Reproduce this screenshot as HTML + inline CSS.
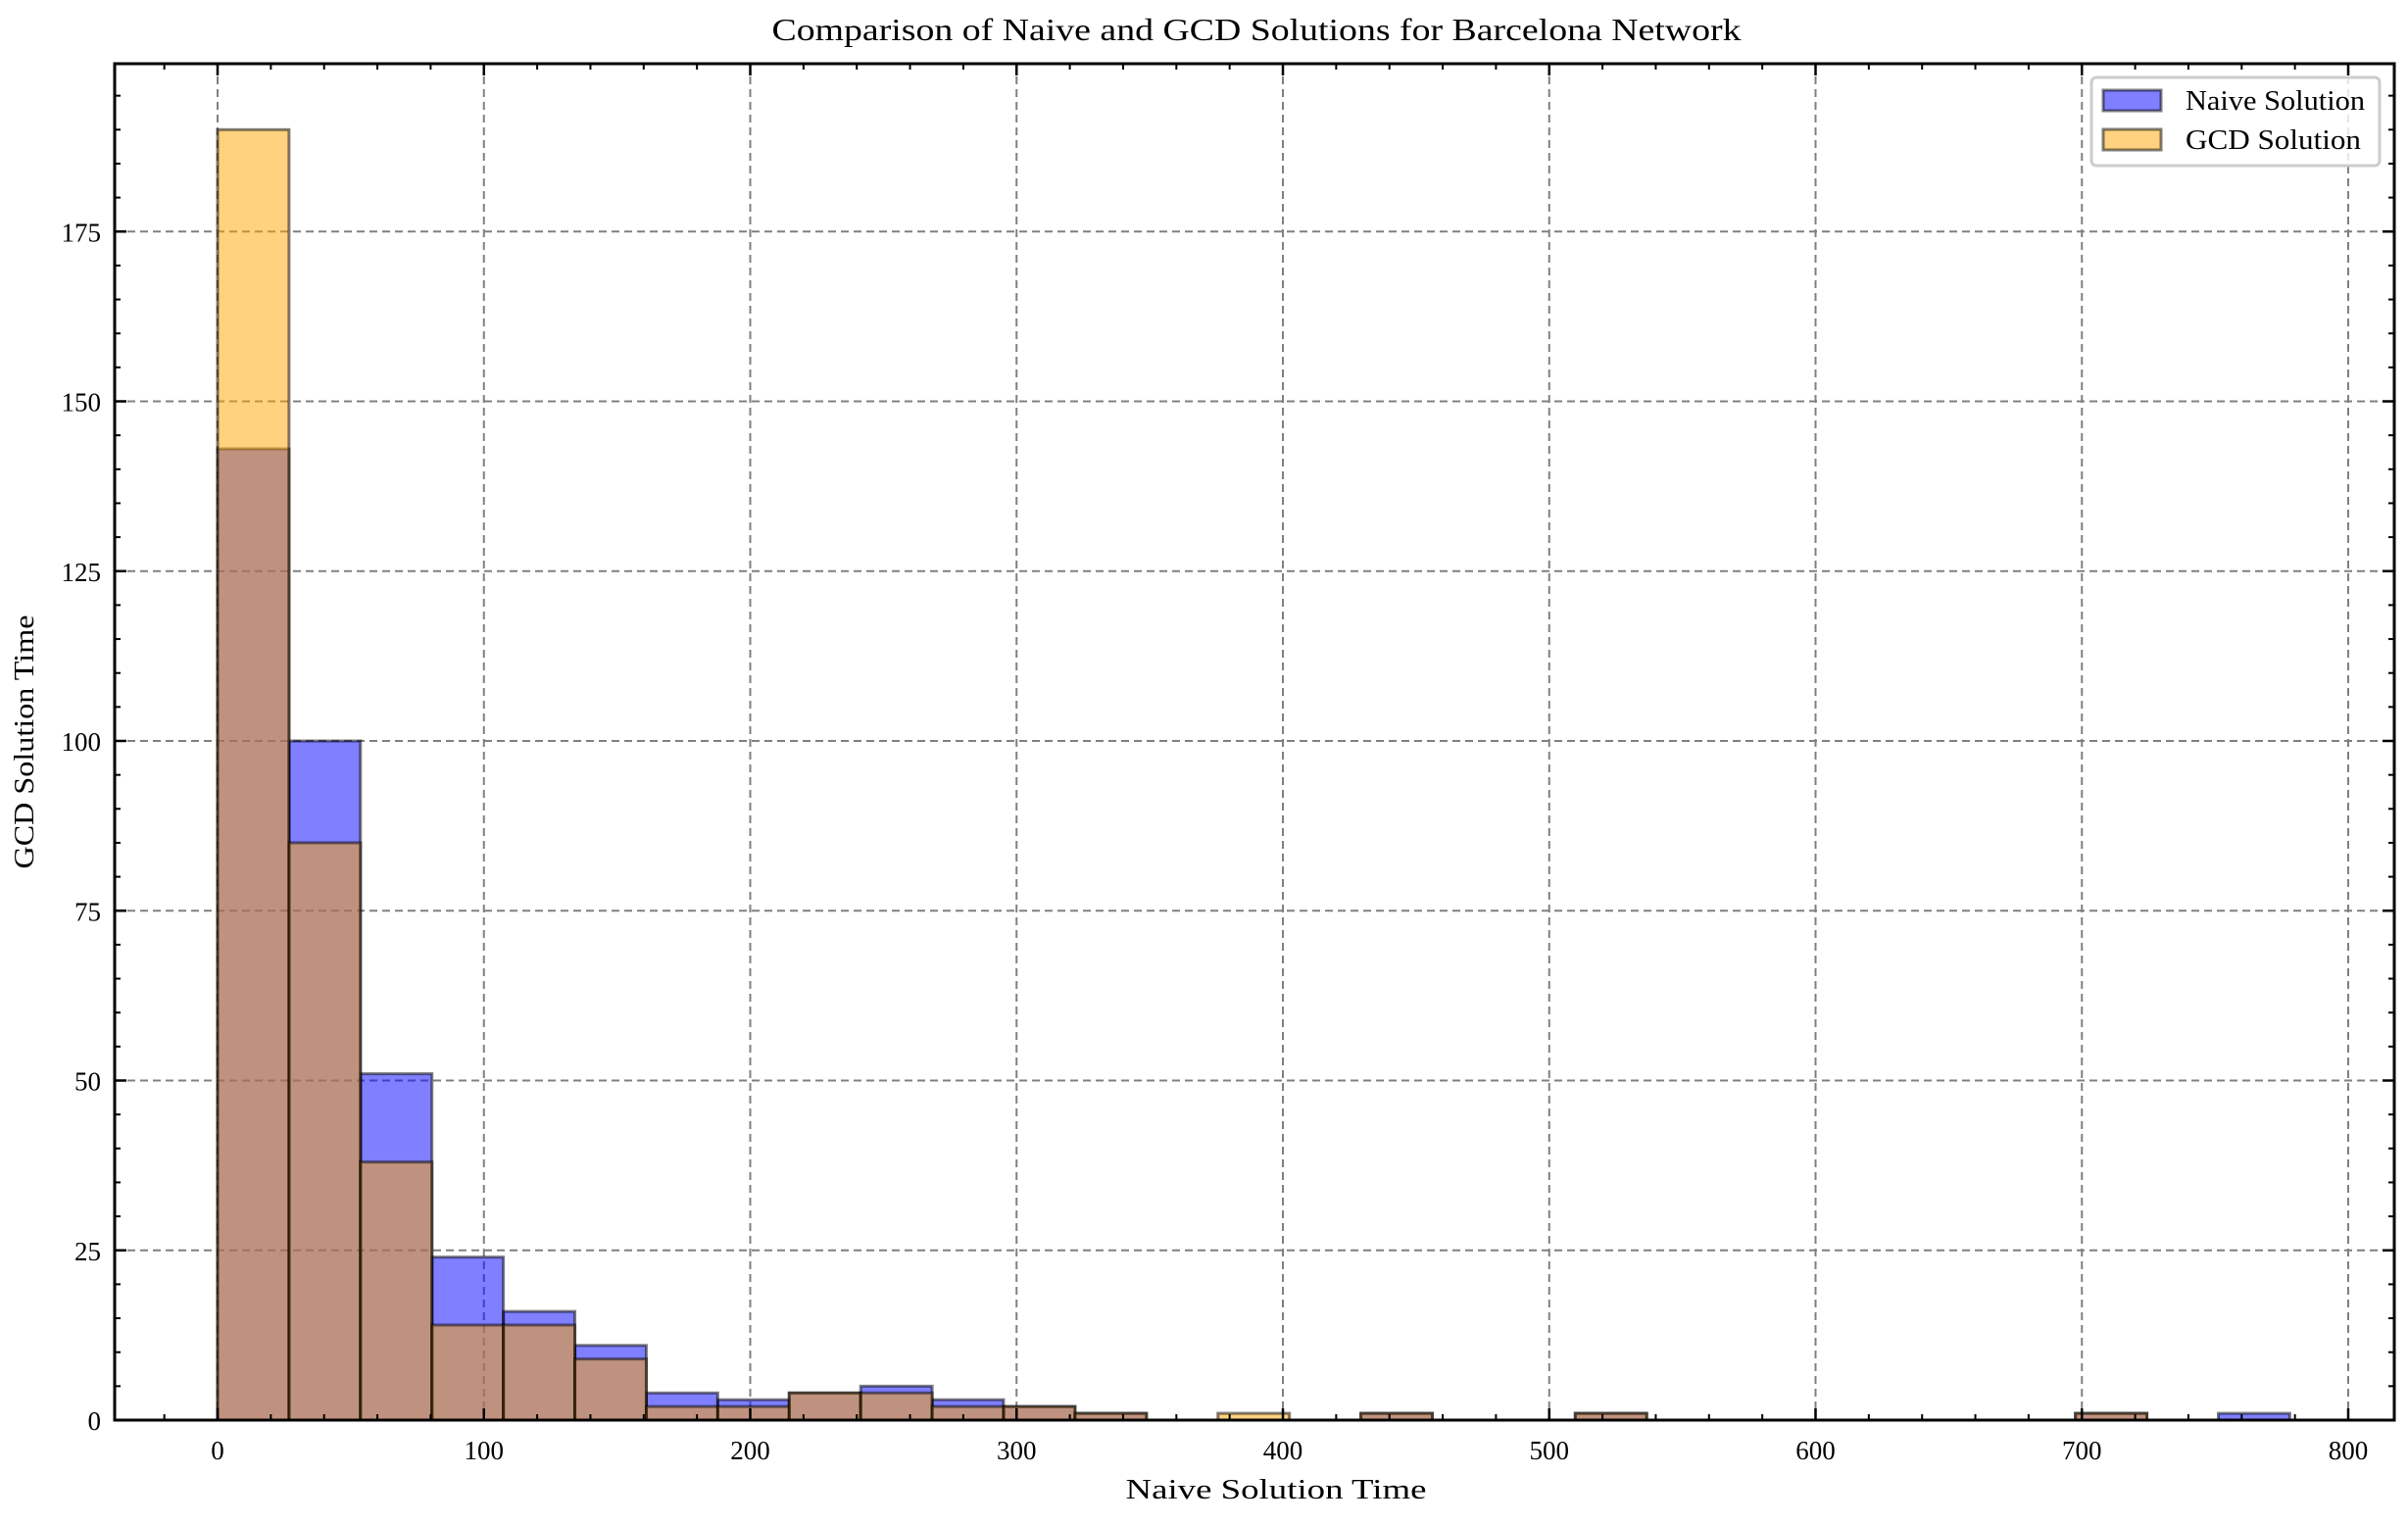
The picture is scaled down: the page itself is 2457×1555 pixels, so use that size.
<!DOCTYPE html>
<html><head><meta charset="utf-8"><style>
body{margin:0;background:#fff}
svg text{font-family:"Liberation Serif",serif;fill:#000}
</style></head><body>
<svg id="chart" width="2457" height="1550" viewBox="0 0 2457 1550" xmlns="http://www.w3.org/2000/svg">
<rect width="2457" height="1550" fill="#fff"/>
<text x="1282" y="41" font-size="32" text-anchor="middle" textLength="989" lengthAdjust="spacingAndGlyphs">Comparison of Naive and GCD Solutions for Barcelona Network</text>
<g id="grid"></g><g id="bars"></g><g id="ticks"></g>
<rect x="117" y="65" width="2326" height="1384" fill="none" stroke="#000" stroke-width="3"/>
<text x="1302" y="1529" font-size="28" text-anchor="middle" textLength="307" lengthAdjust="spacingAndGlyphs">Naive Solution Time</text>
<text transform="translate(34,757) rotate(-90)" font-size="28" text-anchor="middle" textLength="259" lengthAdjust="spacingAndGlyphs">GCD Solution Time</text>
<g>
<rect x="2134" y="79" width="294" height="90" rx="5" fill="#fff" fill-opacity="0.8" stroke="#ccc" stroke-width="3"/>
<rect x="2146" y="92" width="59" height="21" fill="rgba(0,0,255,0.5)" stroke="rgba(0,0,0,0.5)" stroke-width="3"/>
<text x="2230" y="112" font-size="28" textLength="183" lengthAdjust="spacingAndGlyphs">Naive Solution</text>
<rect x="2146" y="132" width="59" height="21" fill="rgba(255,165,0,0.5)" stroke="rgba(0,0,0,0.5)" stroke-width="3"/>
<text x="2230" y="152" font-size="28" textLength="179" lengthAdjust="spacingAndGlyphs">GCD Solution</text>
</g>
</svg>
<script>
const binWidth = 26.83;
const naiveCounts = [143,100,51,24,16,11,4,3,4,5,3,2,1,0,0,0,1,0,0,1,0,0,0,0,0,0,1,0,1];
const gcdCounts = [190,85,38,14,14,9,2,2,4,4,2,2,1,0,1,0,1,0,0,1,0,0,0,0,0,0,1,0,0];
const xTicks = [0,100,200,300,400,500,600,700,800];
const yTicks = [0,25,50,75,100,125,150,175];
const NS='http://www.w3.org/2000/svg';
const L=117,R=2443,T=65,B=1449;
const X=v=>222+v*2.7175;
const Y=v=>B-v*6.93;
function mk(tag,attrs,parent){const e=document.createElementNS(NS,tag);for(const k in attrs)e.setAttribute(k,attrs[k]);parent.appendChild(e);return e;}
const grid=document.getElementById('grid'),bars=document.getElementById('bars'),ticks=document.getElementById('ticks');
xTicks.forEach(v=>{
 const g=mk('line',{x1:X(v),x2:X(v),y1:T,y2:B,stroke:'#808080','stroke-width':2,'stroke-dasharray':'8,5'},grid);
 
 
 const t=mk('text',{x:X(v),y:B+40,'font-size':27,'text-anchor':'middle'},ticks);t.textContent=v;
 
 
 mk('line',{x1:X(v),x2:X(v),y1:B,y2:B-12,stroke:'#000','stroke-width':2.5},ticks);
 mk('line',{x1:X(v),x2:X(v),y1:T,y2:T+12,stroke:'#000','stroke-width':2.5},ticks);
});
for(let v=-40;v<=820;v+=20){if(v%100===0)continue;const x=X(v);if(x<L||x>R)continue;
 mk('line',{x1:x,x2:x,y1:B,y2:B-6,stroke:'#000','stroke-width':2},ticks);
 mk('line',{x1:x,x2:x,y1:T,y2:T+6,stroke:'#000','stroke-width':2},ticks);}
yTicks.forEach(v=>{
 if(v>0){const g=mk('line',{x1:L,x2:R,y1:Y(v),y2:Y(v),stroke:'#808080','stroke-width':2,'stroke-dasharray':'8,5'},grid);
 
 }
 const t=mk('text',{x:L-14,y:Y(v)+10,'font-size':27,'text-anchor':'end'},ticks);t.textContent=v;
 
 
 mk('line',{x1:L,x2:L+12,y1:Y(v),y2:Y(v),stroke:'#000','stroke-width':2.5},ticks);
 mk('line',{x1:R,x2:R-12,y1:Y(v),y2:Y(v),stroke:'#000','stroke-width':2.5},ticks);
});
for(let v=5;v<200;v+=5){if(v%25===0)continue;
 mk('line',{x1:L,x2:L+6,y1:Y(v),y2:Y(v),stroke:'#000','stroke-width':2},ticks);
 mk('line',{x1:R,x2:R-6,y1:Y(v),y2:Y(v),stroke:'#000','stroke-width':2},ticks);}
function drawSeries(counts,fill,name){
 counts.forEach((c,i)=>{if(c<=0)return;
  const x0=X(i*binWidth),x1=X((i+1)*binWidth);
  const r=mk('rect',{x:x0,y:Y(c),width:x1-x0,height:B-Y(c),fill:fill,stroke:'rgba(0,0,0,0.5)','stroke-width':3},bars);
  
  
 });
}
drawSeries(naiveCounts,'rgba(0,0,255,0.5)','naive');
drawSeries(gcdCounts,'rgba(255,165,0,0.5)','gcd');
</script>
</body></html>
